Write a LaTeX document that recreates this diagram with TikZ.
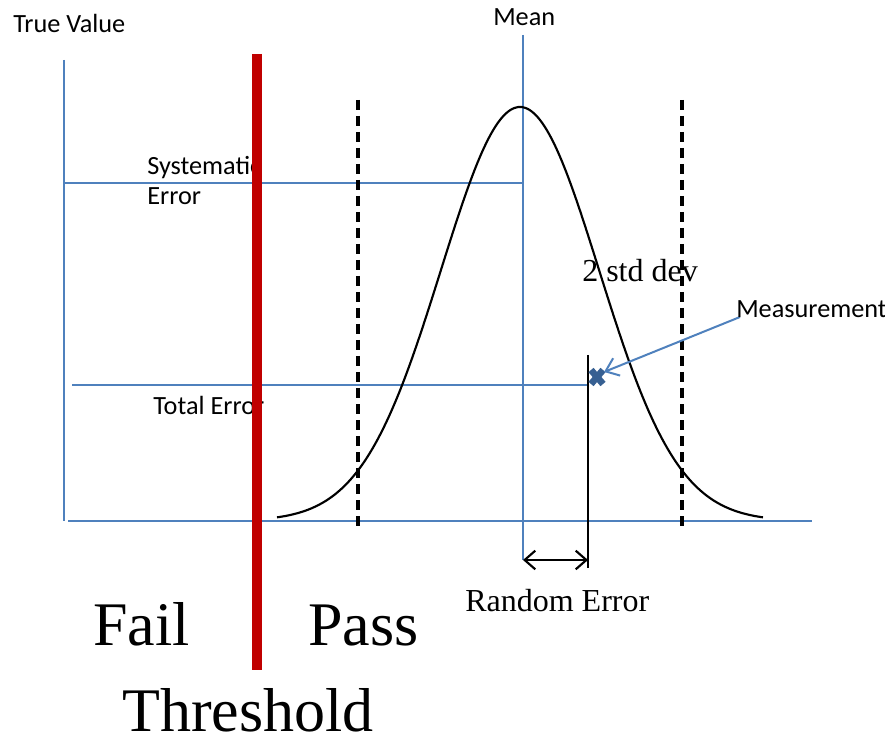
\documentclass[tikz,border=0pt]{standalone}
\usepackage{fontspec}
\setmainfont{Liberation Serif}
\newfontfamily\calib{Carlito}
\usetikzlibrary{arrows.meta,calc}
\definecolor{axisblue}{RGB}{79,129,189}
\definecolor{markblue}{RGB}{55,96,146}
\definecolor{barred}{RGB}{192,0,0}
\tikzset{
  bluelinestyle/.style={draw=axisblue, line width=1.5pt},
  dashline/.style={draw=black, line width=2.6pt, dash pattern=on 7.5pt off 4.5pt},
  sanslabel/.style={inner sep=0pt, anchor=base west, font=\calib\fontsize{19.7}{23}\selectfont},
  seriflabel/.style={inner sep=0pt, anchor=base west, font=\fontsize{24}{28}\selectfont},
  biglabel/.style={inner sep=0pt, anchor=base west, font=\fontsize{46.5}{52}\selectfont},
}
\begin{document}
\begin{tikzpicture}[x=0.75pt, y=-0.75pt]
\useasboundingbox[fill=white] (0,0) rectangle (885,741);

% coordinates
\coordinate (axTop) at (64,60);
\coordinate (axCorner) at (64,521);
\coordinate (axBL) at (68,521);
\coordinate (axRight) at (812,521);
\coordinate (meanTop) at (523,35);
\coordinate (meanBot) at (523,560);
\coordinate (sysL) at (64,183);
\coordinate (sysR) at (523,183);
\coordinate (totL) at (72,385);
\coordinate (totR) at (587,385);
\coordinate (measTop) at (588,355);
\coordinate (measBot) at (588,568);
\coordinate (rndL) at (523,560);
\coordinate (rndR) at (588,560);
\coordinate (dlTop) at (358,100);
\coordinate (dlBot) at (358,527);
\coordinate (drTop) at (682,100);
\coordinate (drBot) at (682,527);
\coordinate (mark) at (597,377);
\coordinate (arrStart) at (740,317);
\coordinate (arrEnd) at (604,372);
\coordinate (barTop) at (257,54);
\coordinate (barBot) at (257,670);

% axes and blue lines
\draw[bluelinestyle] (axTop) -- (axCorner);
\draw[bluelinestyle] (axBL) -- (axRight);
\draw[bluelinestyle] (meanTop) -- (meanBot);
\draw[bluelinestyle] (sysL) -- (sysR);
\draw[bluelinestyle] (totL) -- (totR);

% dashed 2 std dev lines
\draw[dashline] (dlTop) -- (dlBot);
\draw[dashline] (drTop) -- (drBot);

% gaussian
\draw[black, line width=1.6pt, smooth] plot[domain=277:763, samples=120]
  (\x, {521-414*exp(-0.5*((\x-520)/79)^2)});

% measurement line and random error arrow
\draw[black, line width=1.4pt] (measTop) -- (measBot);
\draw[black, line width=1.6pt, {Straight Barb[length=8pt, width=14pt]}-{Straight Barb[length=8pt, width=14pt]}] (rndL) -- (rndR);

% measurement marker
\draw[markblue, line width=5pt] ($(mark)+(-6,-7)$) -- ($(mark)+(6,7)$);
\draw[markblue, line width=5pt] ($(mark)+(-6,7)$) -- ($(mark)+(6,-7)$);
\draw[axisblue, line width=1.5pt, -{Straight Barb[length=9pt, width=14pt]}] (arrStart) -- (arrEnd);

% labels
\node[sanslabel] (trueval) at (13,33) {True Value};
\node[sanslabel] (meanlbl) at (493,26) {Mean};
\node[sanslabel] (syslbl) at (147,175) {Systematic};
\node[sanslabel] (syslblb) at (147,205) {Error};
\node[sanslabel] (totlbl) at (153,415) {Total Error};
\node[sanslabel] (measlbl) at (736,318) {Measurement};
\node[seriflabel] (stdlbl) at (582,282) {2 std dev};
\node[seriflabel] (rndlbl) at (465,611) {Random Error};
\node[biglabel] (faillbl) at (93,645) {Fail};
\node[biglabel] (passlbl) at (308,645) {Pass};
\node[biglabel] (thrlbl) at (122,731) {Threshold};

% threshold bar
\draw[barred, line width=7.5pt] (barTop) -- (barBot);
\end{tikzpicture}
\end{document}
